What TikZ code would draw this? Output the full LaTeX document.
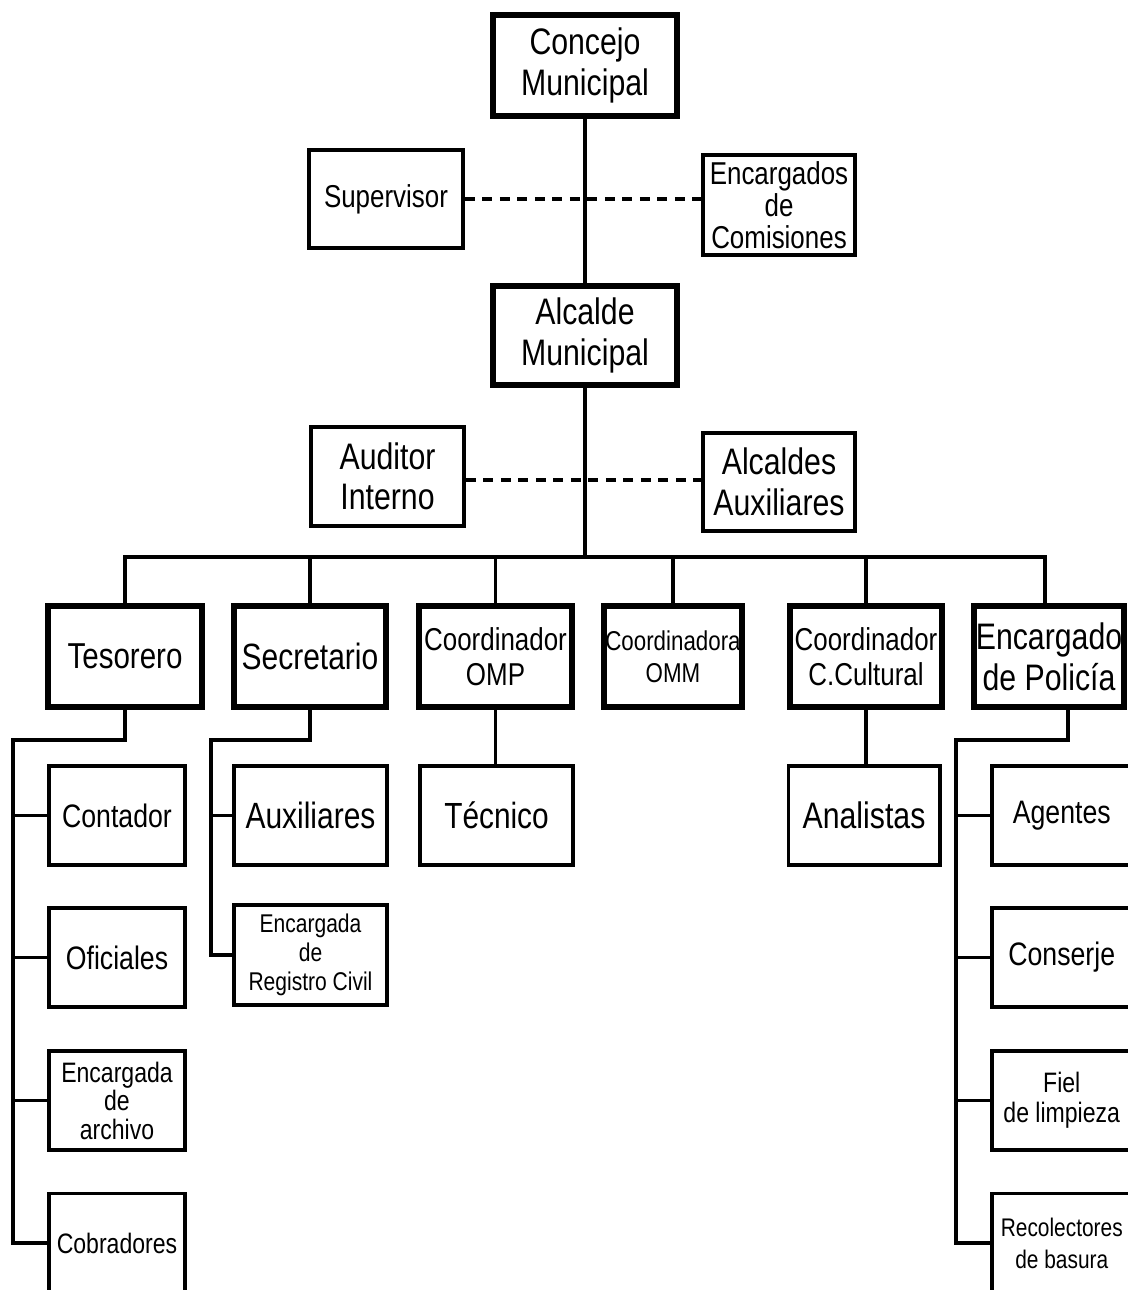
\documentclass[tikz,border=0pt]{standalone}
\usepackage{fontspec}
\setmainfont{Liberation Sans}[FakeStretch=0.82]

\tikzset{
  thickbox/.style={draw,line width=3.6pt,minimum height=2.02cm,align=center,inner sep=0pt},
  thinbox/.style={draw,line width=2pt,minimum height=1.99cm,align=center,inner sep=0pt},
  txt/.style 2 args={font=\fontsize{#1}{#2}\selectfont},
  link/.style={line width=1.8pt},
  dots/.style={line width=2.4pt,dash pattern=on 0.2cm off 0.15cm}
}

\begin{document}
\begin{tikzpicture}[x=0.02cm,y=-0.02cm]
  \useasboundingbox (0,0) rectangle (1127,1290);
  \node[thickbox,txt={21}{23},minimum width=3.68cm] (concejo) at (585,65.5) {Concejo\\Municipal};
  \node[thinbox,txt={18}{20},minimum width=3.09cm,minimum height=1.97cm] (supervisor) at (386,199) {Supervisor};
  \node[thinbox,txt={18}{18.2},minimum width=3.05cm,minimum height=2.01cm] (comisiones) at (779,205) {Encargados\\de\\Comisiones};
  \node[thickbox,txt={21}{23},minimum width=3.68cm,minimum height=1.98cm] (alcalde) at (585,335.5) {Alcalde\\Municipal};
  \node[thinbox,txt={21}{23},minimum width=3.07cm] (auditor) at (387.5,476.5) {Auditor\\Interno};
  \node[thinbox,txt={21}{23},minimum width=3.05cm,minimum height=1.97cm] (auxalc) at (779,482) {Alcaldes\\Auxiliares};

  \node[thickbox,txt={20.5}{22},minimum width=3.08cm] (tesorero) at (125,656.5) {Tesorero};
  \node[thickbox,txt={20.8}{22},minimum width=3.04cm] (secretario) at (310,656.5) {Secretario};
  \node[thickbox,txt={18}{19.9},minimum width=3.06cm] (omp) at (495.5,656.5) {Coordinador\\OMP};
  \node[thickbox,txt={15.5}{18},minimum width=2.76cm] (omm) at (673,656.5) {Coordinadora\\OMM};
  \node[thickbox,txt={18}{19.9},minimum width=3.04cm] (cultural) at (866,656.5) {Coordinador\\C.Cultural};
  \node[thickbox,txt={21}{23.2},minimum width=3.0cm] (policia) at (1049,656.5) {Encargado\\de Policía};

  \node[thinbox,txt={18.5}{20},minimum width=2.73cm] (contador) at (117,815.5) {Contador};
  \node[thinbox,txt={18.5}{20},minimum width=2.73cm] (oficiales) at (117,957.5) {Oficiales};
  \node[thinbox,txt={16}{16.2},minimum width=2.73cm] (archivo) at (117,1100.5) {Encargada\\de\\archivo};
  \node[thinbox,txt={16}{18},minimum width=2.73cm] (cobradores) at (117,1243) {Cobradores};
  \node[thinbox,txt={20.8}{22},minimum width=3.07cm] (auxiliares) at (310.5,815.5) {Auxiliares};
  \node[thinbox,txt={14.6}{16.7},minimum width=3.07cm,minimum height=2.01cm] (registro) at (310.5,955) {Encargada\\de\\Registro Civil};
  \node[thinbox,txt={20.7}{22},minimum width=3.07cm] (tecnico) at (496.5,815.5) {Técnico};
  \node[thinbox,txt={21}{22},minimum width=3.03cm] (analistas) at (864,815.5) {Analistas};
  \node[thinbox,txt={18.5}{20},minimum width=2.8cm] (agentes) at (1061.75,815.5) {Agentes};
  \node[thinbox,txt={18.5}{20},minimum width=2.8cm] (conserje) at (1061.75,957.5) {Conserje};
  \node[thinbox,txt={16}{17},minimum width=2.8cm] (fiel) at (1061.75,1100.5) {Fiel\\de limpieza};
  \node[thinbox,txt={14.5}{18.1},minimum width=2.8cm] (recolectores) at (1061.75,1243) {Recolectores\\de basura};

  \draw[link] (concejo) -- (alcalde);
  \draw[dots] (supervisor.east) -- (supervisor.east -| comisiones.west);
  \draw[dots] ([yshift=-0.07cm]auditor.east) -- ([yshift=-0.07cm]auditor.east -| auxalc.west);

  \coordinate (bus) at (585,557);
  \draw[link] (alcalde) -- (bus);
  \draw[link] (tesorero.north) |- (bus) -| ([xshift=-0.08cm]policia.north);
  \foreach \n in {secretario,omp,omm,cultural}
    \draw[link] (\n.north) -- (\n.north |- bus);

  \coordinate (tesj) at (13,740);
  \draw[link] (tesorero.south) |- (tesj) |- (cobradores.west);
  \foreach \n in {contador,oficiales,archivo}
    \draw[link] (\n.west) -- (\n.west -| tesj);

  \coordinate (secj) at (211,740);
  \draw[link] (secretario.south) |- (secj) |- (registro.west);
  \draw[link] (auxiliares.west) -- (auxiliares.west -| secj);

  \draw[link] (omp.south) -- (omp.south |- tecnico.north);
  \draw[link] (cultural.south) -- (cultural.south |- analistas.north);

  \coordinate (polj) at (956,740);
  \draw[link] ([xshift=0.38cm]policia.south) |- (polj) |- (recolectores.west);
  \foreach \n in {agentes,conserje,fiel}
    \draw[link] (\n.west) -- (\n.west -| polj);
\end{tikzpicture}
\end{document}
